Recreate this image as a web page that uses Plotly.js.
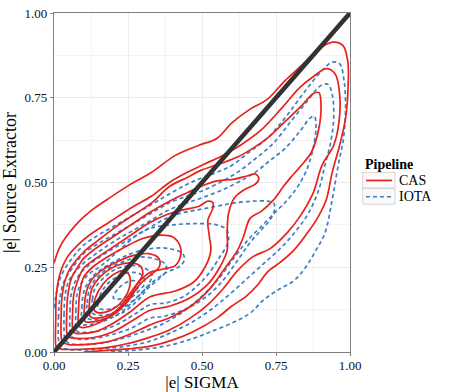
<!DOCTYPE html>
<html>
<head>
<meta charset="utf-8">
<script src="https://cdn.plot.ly/plotly-3.0.1.min.js"></script>
<style>
  html, body { margin: 0; padding: 0; background: #fff; }
  #chart { width: 457px; height: 392px; }
</style>
</head>
<body>
<div id="chart"></div>
<script>
// Contornos de densidad: pares [|e| SIGMA, |e| Source Extractor]
const cas1 = [[0,0.262],[0.02,0.31],[0.05,0.35],[0.09,0.39],[0.13,0.42],[0.18,0.45],[0.25,0.49],[0.33,0.53],[0.41,0.58],[0.49,0.61],[0.55,0.63],[0.60,0.675],[0.66,0.715],[0.72,0.745],[0.78,0.80],[0.83,0.84],[0.89,0.89],[0.94,0.914],[0.975,0.905],[0.992,0.86],[0.994,0.79],[0.985,0.69],[0.965,0.61],[0.94,0.53],[0.92,0.45],[0.89,0.395],[0.855,0.35],[0.81,0.30],[0.765,0.265],[0.72,0.235],[0.69,0.20],[0.65,0.165],[0.60,0.135],[0.55,0.10],[0.47,0.06],[0.40,0.035],[0.33,0.018],[0.25,0.009],[0.17,0.004],[0.10,0]];
const cas2 = [[0.006,0.02],[0.006,0.10],[0.008,0.17],[0.02,0.23],[0.045,0.28],[0.08,0.315],[0.12,0.345],[0.19,0.385],[0.26,0.425],[0.33,0.46],[0.39,0.50],[0.45,0.53],[0.51,0.555],[0.57,0.58],[0.63,0.61],[0.70,0.655],[0.77,0.72],[0.83,0.78],[0.88,0.815],[0.92,0.836],[0.95,0.82],[0.965,0.76],[0.963,0.68],[0.945,0.61],[0.905,0.55],[0.876,0.47],[0.831,0.40],[0.786,0.35],[0.73,0.305],[0.67,0.28],[0.62,0.24],[0.57,0.185],[0.52,0.14],[0.46,0.10],[0.39,0.065],[0.325,0.044],[0.25,0.025],[0.17,0.012],[0.09,0.008],[0.03,0.008],[0.01,0.012],[0.006,0.02]];
const cas3 = [[0.025,0.04],[0.024,0.10],[0.028,0.17],[0.045,0.23],[0.07,0.265],[0.10,0.295],[0.15,0.33],[0.21,0.37],[0.27,0.405],[0.33,0.44],[0.39,0.488],[0.45,0.515],[0.494,0.535],[0.56,0.555],[0.62,0.575],[0.67,0.60],[0.72,0.63],[0.775,0.675],[0.84,0.73],[0.875,0.762],[0.895,0.765],[0.902,0.73],[0.895,0.66],[0.87,0.59],[0.835,0.55],[0.80,0.515],[0.775,0.488],[0.741,0.448],[0.70,0.415],[0.663,0.395],[0.64,0.34],[0.62,0.30],[0.58,0.25],[0.53,0.19],[0.47,0.14],[0.40,0.105],[0.325,0.08],[0.25,0.05],[0.18,0.03],[0.10,0.022],[0.05,0.022],[0.03,0.028],[0.025,0.04]];
const cas4 = [[0.045,0.05],[0.043,0.11],[0.047,0.17],[0.06,0.22],[0.08,0.25],[0.10,0.276],[0.14,0.305],[0.20,0.34],[0.26,0.375],[0.32,0.41],[0.39,0.445],[0.45,0.47],[0.494,0.488],[0.55,0.505],[0.61,0.51],[0.655,0.52],[0.68,0.525],[0.692,0.512],[0.68,0.495],[0.645,0.48],[0.61,0.455],[0.59,0.41],[0.585,0.35],[0.585,0.30],[0.56,0.25],[0.52,0.20],[0.46,0.16],[0.39,0.135],[0.325,0.123],[0.26,0.09],[0.20,0.06],[0.13,0.042],[0.08,0.04],[0.055,0.042],[0.045,0.05]];
const cas5 = [[0.065,0.06],[0.063,0.12],[0.067,0.17],[0.08,0.21],[0.10,0.247],[0.14,0.275],[0.20,0.31],[0.26,0.345],[0.32,0.38],[0.38,0.405],[0.44,0.42],[0.49,0.43],[0.52,0.445],[0.537,0.44],[0.535,0.42],[0.52,0.39],[0.525,0.34],[0.53,0.30],[0.51,0.25],[0.47,0.205],[0.41,0.18],[0.325,0.163],[0.26,0.12],[0.20,0.085],[0.14,0.06],[0.10,0.055],[0.075,0.055],[0.065,0.06]];
const cas6 = [[0.085,0.075],[0.083,0.13],[0.088,0.18],[0.10,0.22],[0.13,0.25],[0.18,0.28],[0.24,0.31],[0.30,0.335],[0.36,0.345],[0.40,0.34],[0.427,0.31],[0.425,0.275],[0.41,0.255],[0.37,0.245],[0.325,0.235],[0.28,0.20],[0.23,0.14],[0.18,0.10],[0.13,0.078],[0.10,0.072],[0.085,0.075]];
const cas7 = [[0.105,0.09],[0.103,0.14],[0.11,0.18],[0.125,0.21],[0.16,0.24],[0.21,0.265],[0.27,0.285],[0.32,0.29],[0.355,0.275],[0.355,0.25],[0.33,0.23],[0.29,0.20],[0.25,0.15],[0.20,0.11],[0.15,0.092],[0.115,0.088],[0.105,0.09]];
const cas8 = [[0.122,0.105],[0.12,0.15],[0.13,0.19],[0.16,0.225],[0.20,0.25],[0.25,0.262],[0.29,0.255],[0.30,0.23],[0.28,0.20],[0.25,0.155],[0.21,0.12],[0.17,0.104],[0.135,0.10],[0.122,0.105]];
const cas9 = [[0.135,0.125],[0.14,0.16],[0.165,0.20],[0.20,0.228],[0.235,0.24],[0.255,0.225],[0.255,0.19],[0.235,0.155],[0.205,0.13],[0.17,0.117],[0.145,0.117],[0.135,0.125]];

const iota1 = [[0,0.13],[0.012,0.19],[0.03,0.235],[0.06,0.275],[0.10,0.315],[0.15,0.345],[0.20,0.37],[0.26,0.40],[0.33,0.435],[0.393,0.468],[0.45,0.495],[0.494,0.512],[0.55,0.53],[0.60,0.55],[0.66,0.59],[0.72,0.63],[0.78,0.69],[0.84,0.76],[0.90,0.825],[0.94,0.855],[0.965,0.85],[0.98,0.80],[0.985,0.72],[0.978,0.63],[0.96,0.55],[0.94,0.45],[0.915,0.35],[0.885,0.30],[0.85,0.25],[0.81,0.21],[0.76,0.185],[0.71,0.155],[0.663,0.115],[0.60,0.085],[0.53,0.06],[0.47,0.04],[0.40,0.022],[0.325,0.01],[0.25,0.004],[0.18,0]];
const iota2 = [[0.016,0.03],[0.015,0.10],[0.02,0.16],[0.035,0.21],[0.06,0.245],[0.10,0.29],[0.15,0.32],[0.21,0.35],[0.27,0.38],[0.33,0.41],[0.39,0.44],[0.45,0.46],[0.50,0.475],[0.56,0.50],[0.62,0.53],[0.68,0.57],[0.74,0.615],[0.80,0.68],[0.86,0.745],[0.90,0.785],[0.925,0.79],[0.94,0.76],[0.945,0.69],[0.935,0.62],[0.915,0.55],[0.895,0.48],[0.86,0.41],[0.82,0.36],[0.77,0.31],[0.72,0.27],[0.663,0.225],[0.60,0.175],[0.53,0.125],[0.46,0.085],[0.39,0.055],[0.325,0.032],[0.25,0.018],[0.17,0.01],[0.10,0.006],[0.045,0.008],[0.022,0.015],[0.016,0.03]];
const iota3 = [[0.035,0.045],[0.034,0.11],[0.038,0.17],[0.05,0.21],[0.075,0.24],[0.10,0.262],[0.15,0.295],[0.21,0.33],[0.27,0.36],[0.33,0.39],[0.39,0.42],[0.45,0.44],[0.50,0.455],[0.56,0.475],[0.62,0.50],[0.68,0.53],[0.73,0.565],[0.78,0.60],[0.83,0.65],[0.865,0.69],[0.88,0.695],[0.885,0.66],[0.875,0.60],[0.855,0.54],[0.825,0.49],[0.79,0.45],[0.745,0.41],[0.70,0.37],[0.655,0.33],[0.61,0.28],[0.56,0.22],[0.50,0.165],[0.43,0.115],[0.36,0.08],[0.30,0.06],[0.23,0.04],[0.15,0.025],[0.09,0.022],[0.05,0.026],[0.038,0.035],[0.035,0.045]];
const iota4 = [[0.055,0.055],[0.054,0.12],[0.058,0.17],[0.07,0.205],[0.09,0.233],[0.13,0.265],[0.19,0.30],[0.25,0.33],[0.31,0.36],[0.37,0.39],[0.43,0.41],[0.49,0.42],[0.55,0.43],[0.61,0.44],[0.67,0.445],[0.72,0.445],[0.742,0.44],[0.745,0.42],[0.73,0.39],[0.70,0.36],[0.66,0.32],[0.62,0.27],[0.57,0.21],[0.51,0.16],[0.44,0.125],[0.37,0.105],[0.325,0.10],[0.26,0.07],[0.19,0.05],[0.12,0.038],[0.08,0.038],[0.06,0.045],[0.055,0.055]];
const iota5 = [[0.075,0.065],[0.074,0.12],[0.078,0.17],[0.09,0.20],[0.115,0.228],[0.16,0.255],[0.22,0.30],[0.28,0.345],[0.325,0.365],[0.40,0.375],[0.483,0.379],[0.55,0.375],[0.584,0.36],[0.59,0.335],[0.584,0.315],[0.56,0.28],[0.53,0.24],[0.49,0.20],[0.44,0.165],[0.38,0.145],[0.325,0.14],[0.27,0.11],[0.21,0.08],[0.15,0.062],[0.10,0.058],[0.08,0.06],[0.075,0.065]];
const iota6 = [[0.095,0.08],[0.094,0.13],[0.10,0.175],[0.115,0.205],[0.145,0.235],[0.20,0.265],[0.26,0.29],[0.325,0.305],[0.39,0.305],[0.435,0.29],[0.44,0.27],[0.42,0.25],[0.38,0.235],[0.325,0.20],[0.28,0.16],[0.23,0.12],[0.18,0.095],[0.13,0.082],[0.105,0.08],[0.095,0.08]];
const iota7 = [[0.113,0.10],[0.112,0.145],[0.12,0.185],[0.14,0.215],[0.18,0.245],[0.23,0.265],[0.29,0.28],[0.34,0.275],[0.375,0.26],[0.38,0.24],[0.36,0.22],[0.32,0.19],[0.28,0.15],[0.23,0.115],[0.18,0.10],[0.14,0.095],[0.113,0.10]];
const iota8 = [[0.13,0.115],[0.13,0.155],[0.14,0.19],[0.17,0.22],[0.21,0.245],[0.26,0.255],[0.30,0.25],[0.33,0.23],[0.32,0.20],[0.29,0.17],[0.25,0.14],[0.20,0.115],[0.16,0.108],[0.13,0.115]];
const iota9 = [[0.15,0.13],[0.155,0.165],[0.18,0.20],[0.22,0.225],[0.265,0.235],[0.30,0.225],[0.305,0.20],[0.28,0.175],[0.245,0.15],[0.20,0.13],[0.17,0.125],[0.15,0.13]];
const iota10 = [[0.20,0.16],[0.22,0.19],[0.26,0.21],[0.29,0.205],[0.28,0.185],[0.25,0.165],[0.21,0.155],[0.20,0.16]];

const casContours = [cas1, cas2, cas3, cas4, cas5, cas6, cas7, cas8, cas9];
const iotaContours = [iota1, iota2, iota3, iota4, iota5, iota6, iota7, iota8, iota9, iota10];
const identityX = [0, 1];
const identityY = [0, 1];
const pipelines = ['CAS', 'IOTA'];

const serif = 'Liberation Serif, serif';
const RED = '#e8211d';
const BLUE = '#3b80c4';
const BLUE_DASH = '4px,3px';

function contourTraces(lista, nombre, color, dash) {
  return lista.map(pts => ({
    type: 'scatter',
    mode: 'lines',
    x: pts.map(p => p[0]),
    y: pts.map(p => p[1]),
    name: nombre,
    showlegend: false,
    line: { color: color, width: 1.7, dash: dash, shape: 'spline', smoothing: 1 },
    hoverinfo: 'skip',
  }));
}

const traces = [
  ...contourTraces(iotaContours, pipelines[1], BLUE, BLUE_DASH),
  ...contourTraces(casContours, pipelines[0], RED, 'solid'),
  {
    type: 'scatter',
    mode: 'lines',
    x: identityX,
    y: identityY,
    showlegend: false,
    line: { color: '#333333', width: 4.5 },
    hoverinfo: 'skip',
  },
];

// Leyenda dibujada a mano (cajas con borde gris como en ggplot)
const legendShapes = [];
const legendNotes = [{
  xref: 'paper', yref: 'paper', x: 1.044, y: 0.553, xanchor: 'left', yanchor: 'middle',
  text: '<b>Pipeline</b>', showarrow: false, font: { family: serif, size: 14, color: '#000' },
}];
pipelines.forEach((nombre, i) => {
  const top = 0.530 - i * 0.048;
  const mid = top - 0.024;
  legendShapes.push({
    type: 'rect', xref: 'paper', yref: 'paper', x0: 1.043, x1: 1.152, y0: top - 0.046, y1: top,
    line: { color: '#d4d4d4', width: 1 }, fillcolor: '#fafafa',
  });
  legendShapes.push({
    type: 'line', xref: 'paper', yref: 'paper', x0: 1.054, x1: 1.142, y0: mid, y1: mid,
    line: { color: i === 0 ? RED : BLUE, width: 1.7, dash: i === 0 ? 'solid' : BLUE_DASH },
  });
  legendNotes.push({
    xref: 'paper', yref: 'paper', x: 1.158, y: mid, xanchor: 'left', yanchor: 'middle',
    text: nombre, showarrow: false, font: { family: serif, size: 14, color: '#000' },
  });
});

const axisBase = {
  range: [0, 1],
  dtick: 0.25,
  tickformat: '.2f',
  showgrid: true,
  gridcolor: '#ebebeb',
  gridwidth: 1,
  minor: { dtick: 0.125, showgrid: true, gridcolor: '#f3f3f3', gridwidth: 1 },
  zeroline: false,
  showline: true,
  mirror: true,
  linecolor: '#808080',
  linewidth: 1.2,
  ticks: 'outside',
  ticklen: 3,
  tickcolor: '#808080',
  tickfont: { family: serif, size: 13, color: '#111' },
};

const layout = {
  width: 457,
  height: 392,
  margin: { l: 53.5, r: 107, t: 13, b: 40 },
  paper_bgcolor: '#fff',
  plot_bgcolor: '#fff',
  font: { family: serif, color: '#000' },
  xaxis: {
    ...axisBase,
    ticklabelstandoff: -2,
    title: { text: '|e| SIGMA', font: { family: serif, size: 17 }, standoff: 0 },
  },
  yaxis: { ...axisBase, title: { text: '|e| Source Extractor', font: { family: serif, size: 18 }, standoff: 4 } },
  shapes: legendShapes,
  annotations: legendNotes,
  showlegend: false,
};

Plotly.newPlot('chart', traces, layout, { displayModeBar: false, staticPlot: true });
</script>
</body>
</html>
